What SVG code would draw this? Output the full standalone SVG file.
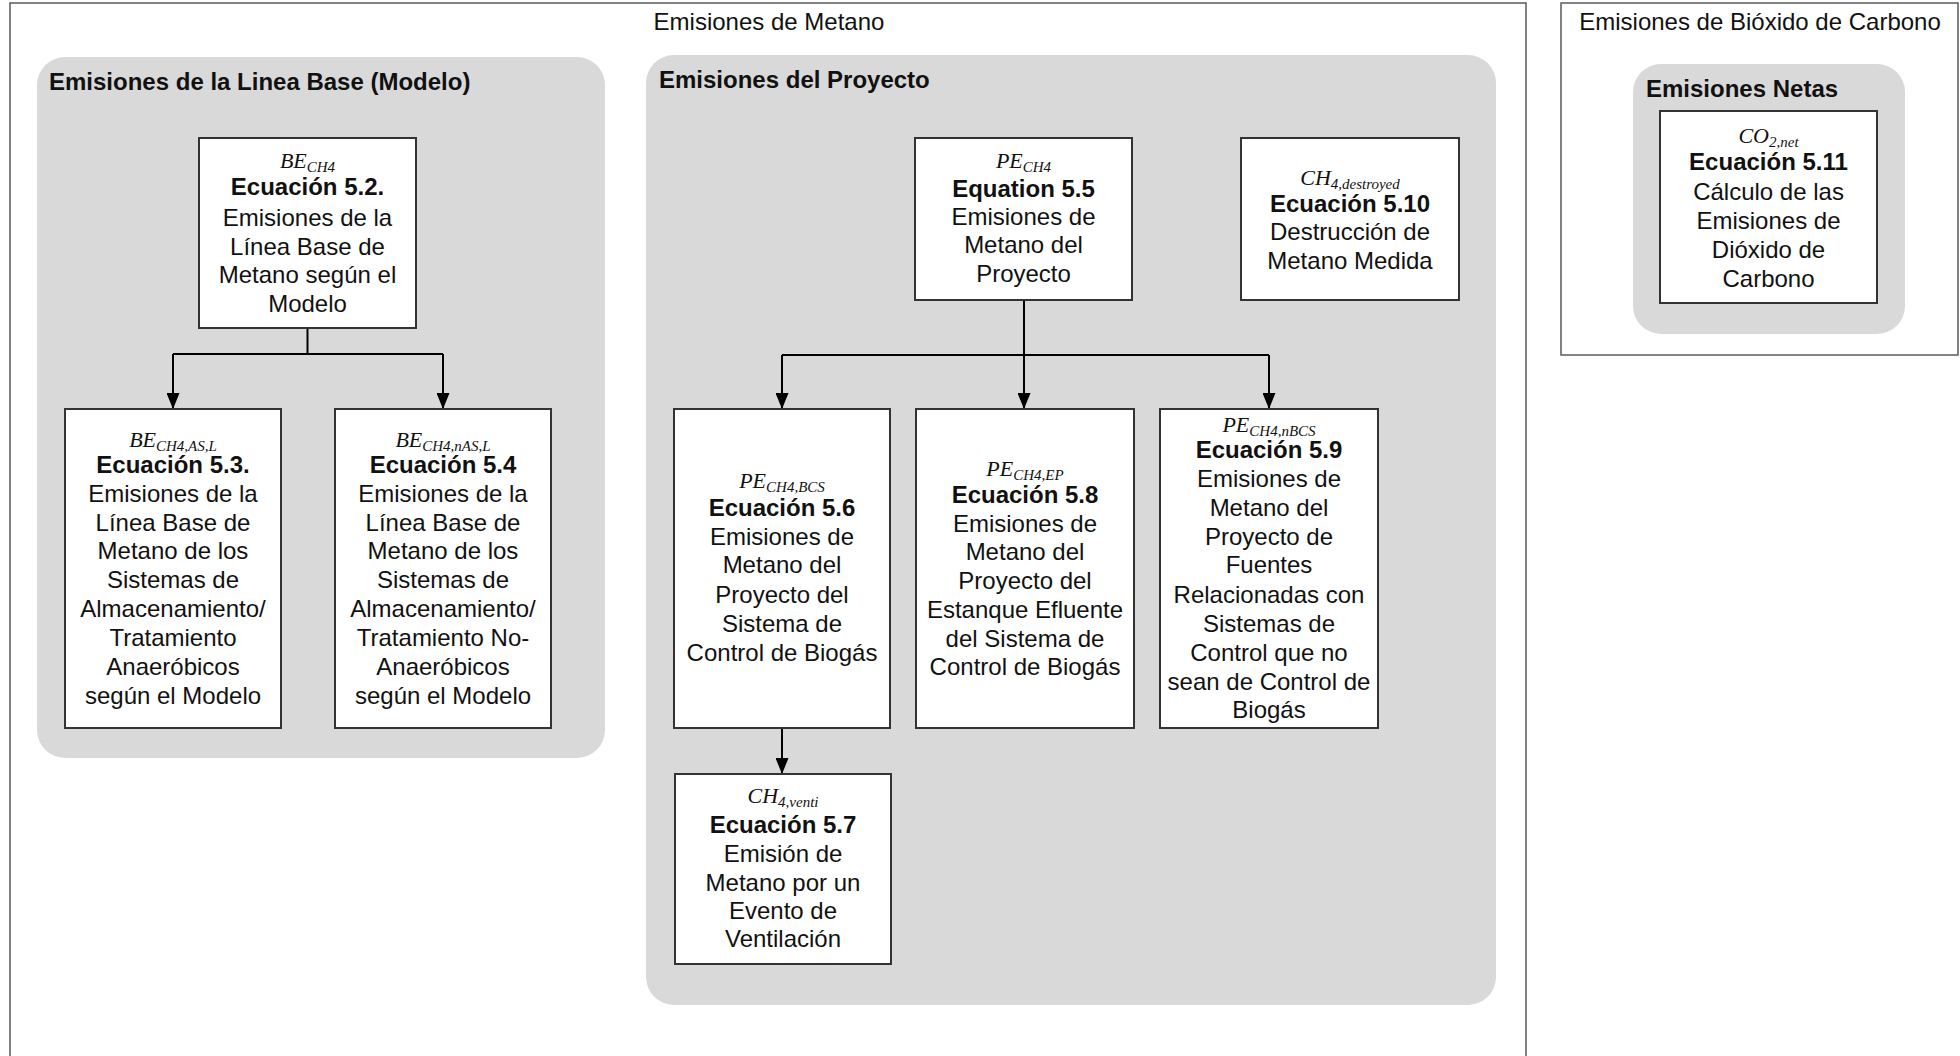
<svg xmlns="http://www.w3.org/2000/svg" width="1960" height="1056" viewBox="0 0 1960 1056">
<defs>
<style>
.frame{fill:#fff;stroke:#5a5a5a;stroke-width:1.5}
.panel{fill:#d9d9d9}
.box{fill:#fff;stroke:#333;stroke-width:2}
.t{font-family:"Liberation Sans",Arial,sans-serif;font-size:24px;fill:#111;text-anchor:middle}
.ts{font-family:"Liberation Sans",Arial,sans-serif;font-size:24px;fill:#111}
.b{font-weight:bold}
.v{font-family:"Liberation Serif","Times New Roman",serif;font-style:italic;font-size:22px;fill:#111;text-anchor:middle}
.conn{stroke:#000;stroke-width:2;fill:none}
</style>
<marker id="arr" viewBox="0 0 16 13" refX="16" refY="6.5" markerWidth="16" markerHeight="13" markerUnits="userSpaceOnUse" orient="auto">
<path d="M0,0 L16,6.5 L0,13 z" fill="#000"/>
</marker>
</defs>
<rect x="0" y="0" width="1960" height="1056" fill="#fff"/>

<g id="frame-metano">
<rect class="frame" x="10" y="3" width="1516" height="1060"/>
<text class="t" x="769" y="30">Emisiones de Metano</text>
</g>
<g id="frame-carbono">
<rect class="frame" x="1561" y="3" width="397" height="352"/>
<text class="t" x="1760" y="30">Emisiones de Bióxido de Carbono</text>
</g>

<g id="panel-linea-base">
<rect class="panel" x="37" y="57" width="568" height="701" rx="28"/>
<text class="ts b" x="49" y="90">Emisiones de la Linea Base (Modelo)</text>
</g>
<g id="panel-proyecto">
<rect class="panel" x="646" y="55" width="850" height="950" rx="28"/>
<text class="ts b" x="659" y="88">Emisiones del Proyecto</text>
</g>
<g id="panel-netas">
<rect class="panel" x="1633" y="64" width="272" height="270" rx="28"/>
<text class="ts b" x="1646" y="97">Emisiones Netas</text>
</g>

<g id="connectors">
<path class="conn" d="M307.5,328 V354 M173,354 H443"/>
<path class="conn" d="M173,354 V409" marker-end="url(#arr)"/>
<path class="conn" d="M443,354 V409" marker-end="url(#arr)"/>
<path class="conn" d="M1024,300 V355 M782,355 H1269"/>
<path class="conn" d="M782,355 V409" marker-end="url(#arr)"/>
<path class="conn" d="M1024,355 V409" marker-end="url(#arr)"/>
<path class="conn" d="M1269,355 V409" marker-end="url(#arr)"/>
<path class="conn" d="M782,728 V774" marker-end="url(#arr)"/>
</g>

<g id="node-be-ch4">
<rect class="box" x="199" y="138" width="217" height="190"/>
<text class="v" x="307.5" y="168">BE<tspan font-size="15" dy="4">CH4</tspan></text>
<text class="t b" x="307.5" y="195">Ecuación 5.2.</text>
<text class="t" x="307.5" y="226">Emisiones de la</text>
<text class="t" x="307.5" y="255">Línea Base de</text>
<text class="t" x="307.5" y="283">Metano según el</text>
<text class="t" x="307.5" y="312">Modelo</text>
</g>

<g id="node-be-as">
<rect class="box" x="65" y="409" width="216" height="319"/>
<text class="v" x="173" y="447">BE<tspan font-size="15" dy="4">CH4,AS,L</tspan></text>
<text class="t b" x="173" y="473">Ecuación 5.3.</text>
<text class="t" x="173" y="502">Emisiones de la</text>
<text class="t" x="173" y="531">Línea Base de</text>
<text class="t" x="173" y="559">Metano de los</text>
<text class="t" x="173" y="588">Sistemas de</text>
<text class="t" x="173" y="617">Almacenamiento/</text>
<text class="t" x="173" y="646">Tratamiento</text>
<text class="t" x="173" y="675">Anaeróbicos</text>
<text class="t" x="173" y="704">según el Modelo</text>
</g>

<g id="node-be-nas">
<rect class="box" x="335" y="409" width="216" height="319"/>
<text class="v" x="443" y="447">BE<tspan font-size="15" dy="4">CH4,nAS,L</tspan></text>
<text class="t b" x="443" y="473">Ecuación 5.4</text>
<text class="t" x="443" y="502">Emisiones de la</text>
<text class="t" x="443" y="531">Línea Base de</text>
<text class="t" x="443" y="559">Metano de los</text>
<text class="t" x="443" y="588">Sistemas de</text>
<text class="t" x="443" y="617">Almacenamiento/</text>
<text class="t" x="443" y="646">Tratamiento No-</text>
<text class="t" x="443" y="675">Anaeróbicos</text>
<text class="t" x="443" y="704">según el Modelo</text>
</g>

<g id="node-pe-ch4">
<rect class="box" x="915" y="138" width="217" height="162"/>
<text class="v" x="1023.5" y="168">PE<tspan font-size="15" dy="4">CH4</tspan></text>
<text class="t b" x="1023.5" y="197">Equation 5.5</text>
<text class="t" x="1023.5" y="225">Emisiones de</text>
<text class="t" x="1023.5" y="253">Metano del</text>
<text class="t" x="1023.5" y="282">Proyecto</text>
</g>

<g id="node-ch4-destroyed">
<rect class="box" x="1241" y="138" width="218" height="162"/>
<text class="v" x="1350" y="185">CH<tspan font-size="15" dy="4">4,destroyed</tspan></text>
<text class="t b" x="1350" y="212">Ecuación 5.10</text>
<text class="t" x="1350" y="240">Destrucción de</text>
<text class="t" x="1350" y="269">Metano Medida</text>
</g>

<g id="node-pe-bcs">
<rect class="box" x="674" y="409" width="216" height="319"/>
<text class="v" x="782" y="488">PE<tspan font-size="15" dy="4">CH4,BCS</tspan></text>
<text class="t b" x="782" y="516">Ecuación 5.6</text>
<text class="t" x="782" y="545">Emisiones de</text>
<text class="t" x="782" y="573">Metano del</text>
<text class="t" x="782" y="603">Proyecto del</text>
<text class="t" x="782" y="632">Sistema de</text>
<text class="t" x="782" y="661">Control de Biogás</text>
</g>

<g id="node-pe-ep">
<rect class="box" x="916" y="409" width="218" height="319"/>
<text class="v" x="1025" y="476">PE<tspan font-size="15" dy="4">CH4,EP</tspan></text>
<text class="t b" x="1025" y="503">Ecuación 5.8</text>
<text class="t" x="1025" y="532">Emisiones de</text>
<text class="t" x="1025" y="560">Metano del</text>
<text class="t" x="1025" y="589">Proyecto del</text>
<text class="t" x="1025" y="618">Estanque Efluente</text>
<text class="t" x="1025" y="647">del Sistema de</text>
<text class="t" x="1025" y="675">Control de Biogás</text>
</g>

<g id="node-pe-nbcs">
<rect class="box" x="1160" y="409" width="218" height="319"/>
<text class="v" x="1269" y="432">PE<tspan font-size="15" dy="4">CH4,nBCS</tspan></text>
<text class="t b" x="1269" y="458">Ecuación 5.9</text>
<text class="t" x="1269" y="487">Emisiones de</text>
<text class="t" x="1269" y="516">Metano del</text>
<text class="t" x="1269" y="545">Proyecto de</text>
<text class="t" x="1269" y="573">Fuentes</text>
<text class="t" x="1269" y="603">Relacionadas con</text>
<text class="t" x="1269" y="632">Sistemas de</text>
<text class="t" x="1269" y="661">Control que no</text>
<text class="t" x="1269" y="690">sean de Control de</text>
<text class="t" x="1269" y="718">Biogás</text>
</g>

<g id="node-ch4-venti">
<rect class="box" x="675" y="774" width="216" height="190"/>
<text class="v" x="783" y="803">CH<tspan font-size="15" dy="4">4,venti</tspan></text>
<text class="t b" x="783" y="833">Ecuación 5.7</text>
<text class="t" x="783" y="862">Emisión de</text>
<text class="t" x="783" y="891">Metano por un</text>
<text class="t" x="783" y="919">Evento de</text>
<text class="t" x="783" y="947">Ventilación</text>
</g>

<g id="node-co2-net">
<rect class="box" x="1660" y="111" width="217" height="192"/>
<text class="v" x="1768.5" y="143">CO<tspan font-size="15" dy="4">2,net</tspan></text>
<text class="t b" x="1768.5" y="170">Ecuación 5.11</text>
<text class="t" x="1768.5" y="200">Cálculo de las</text>
<text class="t" x="1768.5" y="229">Emisiones de</text>
<text class="t" x="1768.5" y="258">Dióxido de</text>
<text class="t" x="1768.5" y="287">Carbono</text>
</g>
</svg>
